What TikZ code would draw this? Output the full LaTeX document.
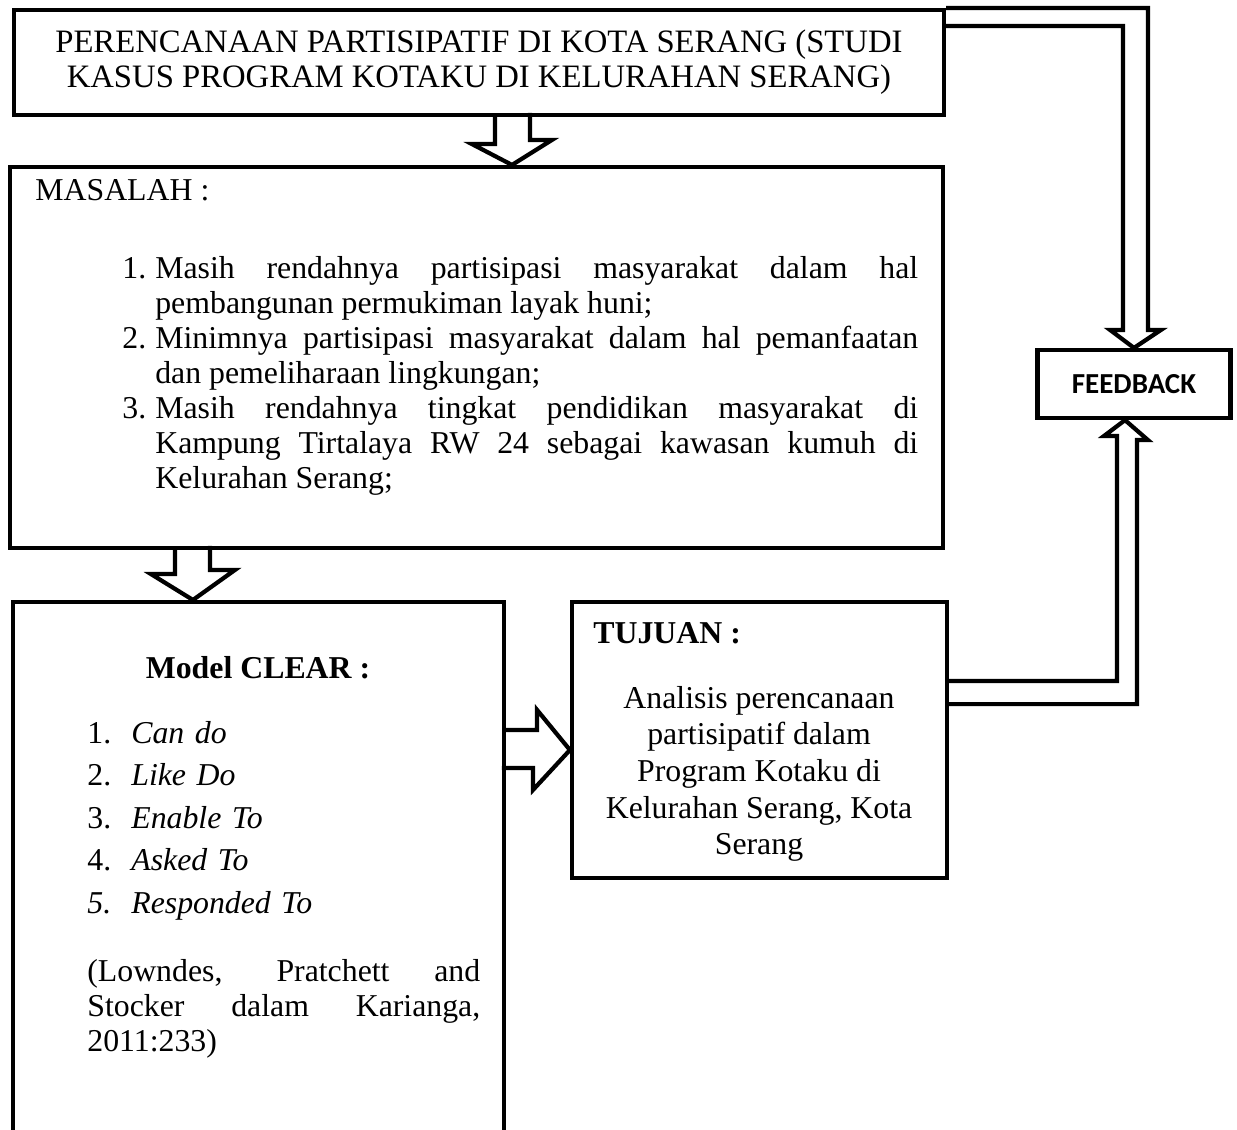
\documentclass[tikz,border=0pt]{standalone}
\usepackage{fontspec}
\setmainfont{Liberation Serif}
\newfontfamily\fbfont{Carlito}
\usepackage{enumitem}
\usetikzlibrary{calc}

\newcommand{\bodysize}{\fontsize{18.1pt}{19.9pt}\selectfont}
\hbadness=10000
\hyphenpenalty=10000

\tikzset{
  box/.style={draw, line width=2.4pt, inner sep=0pt},
  blockarrow/.style={draw, line width=2.4pt, line join=miter},
  txt/.style={inner sep=0pt, font=\bodysize},
}

\begin{document}
\begin{tikzpicture}[x=0.02cm, y=-0.02cm]
\useasboundingbox (0,0) rectangle (1237,1129);
\clip (0,0) rectangle (1237,1129);

% boxes
\node[box, txt, minimum width=18.6cm, minimum height=2.1cm, align=center, font=\fontsize{18.6pt}{19.9pt}\selectfont] (title) at (479,62.5) {PERENCANAAN PARTISIPATIF DI KOTA SERANG (STUDI\\KASUS PROGRAM KOTAKU DI KELURAHAN SERANG)};
\node[box, minimum width=18.66cm, minimum height=7.62cm] (masalah) at (476.5,357.5) {};
\node[box, minimum width=9.82cm, minimum height=12cm] (model) at (258.5,902) {};
\node[box, minimum width=7.5cm, minimum height=5.52cm] (tujuan) at (759.5,740) {};
\node[box, minimum width=3.86cm, minimum height=1.36cm, font={\fbfont\bfseries\fontsize{16.5pt}{18pt}\selectfont}] (feedback) at (1134,384) {FEEDBACK};

% masalah
\node[txt, anchor=base west] (masalahhead) at (35,200) {MASALAH :};
\node[txt, anchor=north west, text width=15.92cm, align=justify] (masalahlist) at (122,243) {%
\begin{enumerate}[nosep, leftmargin=0.66cm, labelwidth=0.66cm, labelsep=0pt, align=left]
\item Masih rendahnya partisipasi masyarakat dalam hal\linebreak pembangunan permukiman layak huni;
\item Minimnya partisipasi masyarakat dalam hal pemanfaatan\linebreak dan pemeliharaan lingkungan;
\item Masih rendahnya tingkat pendidikan masyarakat di\linebreak Kampung Tirtalaya RW 24 sebagai kawasan kumuh di\linebreak Kelurahan Serang;
\end{enumerate}};

% model clear
\node[txt, font=\bodysize\bfseries] (modelhead) at (258,668) {Model CLEAR :};
\node[txt, anchor=north west, text width=7.86cm] (clearlist) at (87,708) {%
\begin{enumerate}[nosep, itemsep=4.3pt, leftmargin=0.88cm, labelwidth=0.88cm, labelsep=0pt, align=left]
\item \textit{Can do}
\item \textit{Like Do}
\item \textit{Enable To}
\item \textit{Asked To}
\item[\textit{5.}] \textit{Responded To}
\end{enumerate}};
\node[txt, anchor=north west, text width=7.86cm, align=justify] (cite) at (87,959) {(Lowndes, Pratchett and\linebreak Stocker dalam Karianga,\linebreak 2011:233)};

% tujuan
\node[txt, anchor=base west, font=\bodysize\bfseries] (tujuanhead) at (593,643) {TUJUAN :};
\node[txt, anchor=north, align=center, font=\fontsize{18.1pt}{20.8pt}\selectfont] (tujuanbody) at (759,686) {Analisis perencanaan\\partisipatif dalam\\Program Kotaku di\\Kelurahan Serang, Kota\\Serang};

% block arrows
\draw[blockarrow] ($(title.south)+(16,0)$) -- ++(0,27) -- ++(-23,0) -- ($(masalah.north)+(35.5,0)$) -- ++(40,-25) -- ++(-22,0) -- ++(0,-27);
\draw[blockarrow] ($(masalah.south west)+(167,0)$) -- ++(0,24) -- ++(-24,0) -- ($(model.north west)+(182,0)$) -- ++(42,-30) -- ++(-25,0) -- ++(0,-24);
\draw[blockarrow] ($(model.north east)+(0,130)$) -- ++(31,0) -- ++(0,-20) -- ($(tujuan.west)+(0,10)$) -- ++(-37,40) -- ++(0,-22) -- ++(-31,0);

% feedback loop
\draw[blockarrow] (title.north east) -- ++(202,0) -- ++(0,322) -- ++(13,0) -- (feedback.north) -- ++(-24,-18) -- ++(13,0) -- ++(0,-304) -- ++(-180,0);
\draw[blockarrow] ($(tujuan.north east)+(0,81)$) -- ++(168,0) -- ++(0,-245) -- ++(-13,0) -- ($(feedback.south)+(-9,0)$) -- ++(23,20) -- ++(-11,0) -- ++(0,264) -- ++(-190,0);
\end{tikzpicture}
\end{document}
